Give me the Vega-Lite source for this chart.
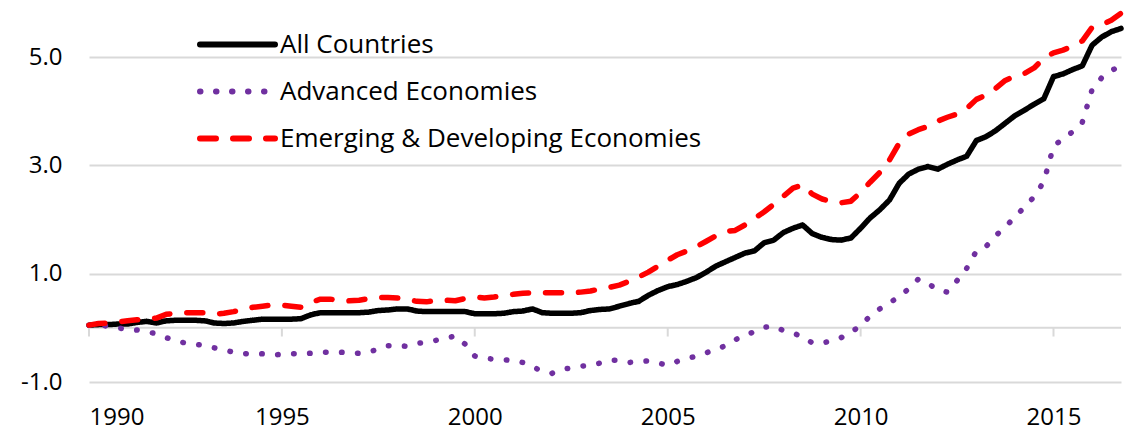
{
"$schema":"https://vega.github.io/schema/vega-lite/v6.json",
"width":1032,"height":379,
"autosize":{"type":"none"},
"padding":{"left":89,"top":3,"right":13,"bottom":49},
"config":{"view":{"stroke":null},"font":"Open Sans"},
"layer":[
{"data":{"values":[{"z":0}]},"mark":{"type":"rule","color":"#d9d9d9","strokeWidth":2},"encoding":{"y":{"field":"z","type":"quantitative"}}},
{"data":{"values":[{"d":"1990-01-01"},{"d":"1995-01-01"},{"d":"2000-01-01"},{"d":"2005-01-01"},{"d":"2010-01-01"},{"d":"2015-01-01"}]},
 "mark":{"type":"rule","color":"#d9d9d9","strokeWidth":2},
 "encoding":{"x":{"field":"d","type":"temporal"},"y":{"datum":0,"type":"quantitative"},"y2":{"datum":-0.16}}},
{"data":{"values":[
{"d":"1990-01-01","s":"All Countries","v":0.05},{"d":"1990-04-01","s":"All Countries","v":0.06},{"d":"1990-07-01","s":"All Countries","v":0.06},{"d":"1990-10-01","s":"All Countries","v":0.07},
{"d":"1991-01-01","s":"All Countries","v":0.07},{"d":"1991-04-01","s":"All Countries","v":0.10},{"d":"1991-07-01","s":"All Countries","v":0.12},{"d":"1991-10-01","s":"All Countries","v":0.09},
{"d":"1992-01-01","s":"All Countries","v":0.13},{"d":"1992-04-01","s":"All Countries","v":0.14},{"d":"1992-07-01","s":"All Countries","v":0.14},{"d":"1992-10-01","s":"All Countries","v":0.14},
{"d":"1993-01-01","s":"All Countries","v":0.13},{"d":"1993-04-01","s":"All Countries","v":0.09},{"d":"1993-07-01","s":"All Countries","v":0.08},{"d":"1993-10-01","s":"All Countries","v":0.09},
{"d":"1994-01-01","s":"All Countries","v":0.12},{"d":"1994-04-01","s":"All Countries","v":0.14},{"d":"1994-07-01","s":"All Countries","v":0.16},{"d":"1994-10-01","s":"All Countries","v":0.16},
{"d":"1995-01-01","s":"All Countries","v":0.16},{"d":"1995-04-01","s":"All Countries","v":0.16},{"d":"1995-07-01","s":"All Countries","v":0.17},{"d":"1995-10-01","s":"All Countries","v":0.24},
{"d":"1996-01-01","s":"All Countries","v":0.28},{"d":"1996-04-01","s":"All Countries","v":0.28},{"d":"1996-07-01","s":"All Countries","v":0.28},{"d":"1996-10-01","s":"All Countries","v":0.28},
{"d":"1997-01-01","s":"All Countries","v":0.28},{"d":"1997-04-01","s":"All Countries","v":0.29},{"d":"1997-07-01","s":"All Countries","v":0.32},{"d":"1997-10-01","s":"All Countries","v":0.33},
{"d":"1998-01-01","s":"All Countries","v":0.35},{"d":"1998-04-01","s":"All Countries","v":0.35},{"d":"1998-07-01","s":"All Countries","v":0.31},{"d":"1998-10-01","s":"All Countries","v":0.30},
{"d":"1999-01-01","s":"All Countries","v":0.30},{"d":"1999-04-01","s":"All Countries","v":0.30},{"d":"1999-07-01","s":"All Countries","v":0.30},{"d":"1999-10-01","s":"All Countries","v":0.30},
{"d":"2000-01-01","s":"All Countries","v":0.26},{"d":"2000-04-01","s":"All Countries","v":0.26},{"d":"2000-07-01","s":"All Countries","v":0.26},{"d":"2000-10-01","s":"All Countries","v":0.27},
{"d":"2001-01-01","s":"All Countries","v":0.30},{"d":"2001-04-01","s":"All Countries","v":0.31},{"d":"2001-07-01","s":"All Countries","v":0.35},{"d":"2001-10-01","s":"All Countries","v":0.28},
{"d":"2002-01-01","s":"All Countries","v":0.27},{"d":"2002-04-01","s":"All Countries","v":0.27},{"d":"2002-07-01","s":"All Countries","v":0.27},{"d":"2002-10-01","s":"All Countries","v":0.28},
{"d":"2003-01-01","s":"All Countries","v":0.32},{"d":"2003-04-01","s":"All Countries","v":0.34},{"d":"2003-07-01","s":"All Countries","v":0.35},{"d":"2003-10-01","s":"All Countries","v":0.40},
{"d":"2004-01-01","s":"All Countries","v":0.45},{"d":"2004-04-01","s":"All Countries","v":0.49},{"d":"2004-07-01","s":"All Countries","v":0.60},{"d":"2004-10-01","s":"All Countries","v":0.69},
{"d":"2005-01-01","s":"All Countries","v":0.76},{"d":"2005-04-01","s":"All Countries","v":0.80},{"d":"2005-07-01","s":"All Countries","v":0.86},{"d":"2005-10-01","s":"All Countries","v":0.93},
{"d":"2006-01-01","s":"All Countries","v":1.03},{"d":"2006-04-01","s":"All Countries","v":1.14},{"d":"2006-07-01","s":"All Countries","v":1.22},{"d":"2006-10-01","s":"All Countries","v":1.30},
{"d":"2007-01-01","s":"All Countries","v":1.38},{"d":"2007-04-01","s":"All Countries","v":1.42},{"d":"2007-07-01","s":"All Countries","v":1.57},{"d":"2007-10-01","s":"All Countries","v":1.62},
{"d":"2008-01-01","s":"All Countries","v":1.76},{"d":"2008-04-01","s":"All Countries","v":1.84},{"d":"2008-07-01","s":"All Countries","v":1.90},{"d":"2008-10-01","s":"All Countries","v":1.74},
{"d":"2009-01-01","s":"All Countries","v":1.67},{"d":"2009-04-01","s":"All Countries","v":1.63},{"d":"2009-07-01","s":"All Countries","v":1.62},{"d":"2009-10-01","s":"All Countries","v":1.66},
{"d":"2010-01-01","s":"All Countries","v":1.84},{"d":"2010-04-01","s":"All Countries","v":2.03},{"d":"2010-07-01","s":"All Countries","v":2.18},{"d":"2010-10-01","s":"All Countries","v":2.36},
{"d":"2011-01-01","s":"All Countries","v":2.67},{"d":"2011-04-01","s":"All Countries","v":2.84},{"d":"2011-07-01","s":"All Countries","v":2.93},{"d":"2011-10-01","s":"All Countries","v":2.98},
{"d":"2012-01-01","s":"All Countries","v":2.93},{"d":"2012-04-01","s":"All Countries","v":3.02},{"d":"2012-07-01","s":"All Countries","v":3.10},{"d":"2012-10-01","s":"All Countries","v":3.17},
{"d":"2013-01-01","s":"All Countries","v":3.46},{"d":"2013-04-01","s":"All Countries","v":3.53},{"d":"2013-07-01","s":"All Countries","v":3.64},{"d":"2013-10-01","s":"All Countries","v":3.78},
{"d":"2014-01-01","s":"All Countries","v":3.92},{"d":"2014-04-01","s":"All Countries","v":4.02},{"d":"2014-07-01","s":"All Countries","v":4.13},{"d":"2014-10-01","s":"All Countries","v":4.23},
{"d":"2015-01-01","s":"All Countries","v":4.64},{"d":"2015-04-01","s":"All Countries","v":4.69},{"d":"2015-07-01","s":"All Countries","v":4.77},{"d":"2015-10-01","s":"All Countries","v":4.84},
{"d":"2016-01-01","s":"All Countries","v":5.22},{"d":"2016-04-01","s":"All Countries","v":5.37},{"d":"2016-07-01","s":"All Countries","v":5.47},{"d":"2016-10-01","s":"All Countries","v":5.53},
{"d":"1990-01-01","s":"Advanced Economies","v":0.05},{"d":"1990-04-01","s":"Advanced Economies","v":0.05},{"d":"1990-07-01","s":"Advanced Economies","v":0.03},{"d":"1990-10-01","s":"Advanced Economies","v":0.00},
{"d":"1991-01-01","s":"Advanced Economies","v":-0.03},{"d":"1991-04-01","s":"Advanced Economies","v":-0.04},{"d":"1991-07-01","s":"Advanced Economies","v":-0.07},{"d":"1991-10-01","s":"Advanced Economies","v":-0.11},
{"d":"1992-01-01","s":"Advanced Economies","v":-0.18},{"d":"1992-04-01","s":"Advanced Economies","v":-0.24},{"d":"1992-07-01","s":"Advanced Economies","v":-0.28},{"d":"1992-10-01","s":"Advanced Economies","v":-0.30},
{"d":"1993-01-01","s":"Advanced Economies","v":-0.33},{"d":"1993-04-01","s":"Advanced Economies","v":-0.37},{"d":"1993-07-01","s":"Advanced Economies","v":-0.41},{"d":"1993-10-01","s":"Advanced Economies","v":-0.45},
{"d":"1994-01-01","s":"Advanced Economies","v":-0.48},{"d":"1994-04-01","s":"Advanced Economies","v":-0.47},{"d":"1994-07-01","s":"Advanced Economies","v":-0.48},{"d":"1994-10-01","s":"Advanced Economies","v":-0.50},
{"d":"1995-01-01","s":"Advanced Economies","v":-0.49},{"d":"1995-04-01","s":"Advanced Economies","v":-0.48},{"d":"1995-07-01","s":"Advanced Economies","v":-0.48},{"d":"1995-10-01","s":"Advanced Economies","v":-0.47},
{"d":"1996-01-01","s":"Advanced Economies","v":-0.45},{"d":"1996-04-01","s":"Advanced Economies","v":-0.45},{"d":"1996-07-01","s":"Advanced Economies","v":-0.45},{"d":"1996-10-01","s":"Advanced Economies","v":-0.46},
{"d":"1997-01-01","s":"Advanced Economies","v":-0.47},{"d":"1997-04-01","s":"Advanced Economies","v":-0.44},{"d":"1997-07-01","s":"Advanced Economies","v":-0.40},{"d":"1997-10-01","s":"Advanced Economies","v":-0.33},
{"d":"1998-01-01","s":"Advanced Economies","v":-0.33},{"d":"1998-04-01","s":"Advanced Economies","v":-0.34},{"d":"1998-07-01","s":"Advanced Economies","v":-0.29},{"d":"1998-10-01","s":"Advanced Economies","v":-0.26},
{"d":"1999-01-01","s":"Advanced Economies","v":-0.23},{"d":"1999-04-01","s":"Advanced Economies","v":-0.19},{"d":"1999-07-01","s":"Advanced Economies","v":-0.15},{"d":"1999-10-01","s":"Advanced Economies","v":-0.30},
{"d":"2000-01-01","s":"Advanced Economies","v":-0.52},{"d":"2000-04-01","s":"Advanced Economies","v":-0.56},{"d":"2000-07-01","s":"Advanced Economies","v":-0.58},{"d":"2000-10-01","s":"Advanced Economies","v":-0.59},
{"d":"2001-01-01","s":"Advanced Economies","v":-0.60},{"d":"2001-04-01","s":"Advanced Economies","v":-0.64},{"d":"2001-07-01","s":"Advanced Economies","v":-0.72},{"d":"2001-10-01","s":"Advanced Economies","v":-0.80},
{"d":"2002-01-01","s":"Advanced Economies","v":-0.84},{"d":"2002-04-01","s":"Advanced Economies","v":-0.77},{"d":"2002-07-01","s":"Advanced Economies","v":-0.74},{"d":"2002-10-01","s":"Advanced Economies","v":-0.71},
{"d":"2003-01-01","s":"Advanced Economies","v":-0.69},{"d":"2003-04-01","s":"Advanced Economies","v":-0.65},{"d":"2003-07-01","s":"Advanced Economies","v":-0.60},{"d":"2003-10-01","s":"Advanced Economies","v":-0.60},
{"d":"2004-01-01","s":"Advanced Economies","v":-0.64},{"d":"2004-04-01","s":"Advanced Economies","v":-0.62},{"d":"2004-07-01","s":"Advanced Economies","v":-0.61},{"d":"2004-10-01","s":"Advanced Economies","v":-0.65},
{"d":"2005-01-01","s":"Advanced Economies","v":-0.69},{"d":"2005-04-01","s":"Advanced Economies","v":-0.62},{"d":"2005-07-01","s":"Advanced Economies","v":-0.57},{"d":"2005-10-01","s":"Advanced Economies","v":-0.52},
{"d":"2006-01-01","s":"Advanced Economies","v":-0.46},{"d":"2006-04-01","s":"Advanced Economies","v":-0.40},{"d":"2006-07-01","s":"Advanced Economies","v":-0.33},{"d":"2006-10-01","s":"Advanced Economies","v":-0.22},
{"d":"2007-01-01","s":"Advanced Economies","v":-0.14},{"d":"2007-04-01","s":"Advanced Economies","v":-0.07},{"d":"2007-07-01","s":"Advanced Economies","v":0.01},{"d":"2007-10-01","s":"Advanced Economies","v":0.03},
{"d":"2008-01-01","s":"Advanced Economies","v":-0.05},{"d":"2008-04-01","s":"Advanced Economies","v":-0.10},{"d":"2008-07-01","s":"Advanced Economies","v":-0.16},{"d":"2008-10-01","s":"Advanced Economies","v":-0.28},
{"d":"2009-01-01","s":"Advanced Economies","v":-0.28},{"d":"2009-04-01","s":"Advanced Economies","v":-0.24},{"d":"2009-07-01","s":"Advanced Economies","v":-0.18},{"d":"2009-10-01","s":"Advanced Economies","v":-0.08},
{"d":"2010-01-01","s":"Advanced Economies","v":0.04},{"d":"2010-04-01","s":"Advanced Economies","v":0.22},{"d":"2010-07-01","s":"Advanced Economies","v":0.35},{"d":"2010-10-01","s":"Advanced Economies","v":0.46},
{"d":"2011-01-01","s":"Advanced Economies","v":0.58},{"d":"2011-04-01","s":"Advanced Economies","v":0.72},{"d":"2011-07-01","s":"Advanced Economies","v":0.90},{"d":"2011-10-01","s":"Advanced Economies","v":0.82},
{"d":"2012-01-01","s":"Advanced Economies","v":0.70},{"d":"2012-04-01","s":"Advanced Economies","v":0.66},{"d":"2012-07-01","s":"Advanced Economies","v":0.87},{"d":"2012-10-01","s":"Advanced Economies","v":1.10},
{"d":"2013-01-01","s":"Advanced Economies","v":1.42},{"d":"2013-04-01","s":"Advanced Economies","v":1.50},{"d":"2013-07-01","s":"Advanced Economies","v":1.70},{"d":"2013-10-01","s":"Advanced Economies","v":1.86},
{"d":"2014-01-01","s":"Advanced Economies","v":2.05},{"d":"2014-04-01","s":"Advanced Economies","v":2.23},{"d":"2014-07-01","s":"Advanced Economies","v":2.42},{"d":"2014-10-01","s":"Advanced Economies","v":2.70},
{"d":"2015-01-01","s":"Advanced Economies","v":3.35},{"d":"2015-04-01","s":"Advanced Economies","v":3.50},{"d":"2015-07-01","s":"Advanced Economies","v":3.62},{"d":"2015-10-01","s":"Advanced Economies","v":3.80},
{"d":"2016-01-01","s":"Advanced Economies","v":4.40},{"d":"2016-04-01","s":"Advanced Economies","v":4.62},{"d":"2016-07-01","s":"Advanced Economies","v":4.75},{"d":"2016-10-01","s":"Advanced Economies","v":4.85},
{"d":"1990-01-01","s":"Emerging & Developing Economies","v":0.05},{"d":"1990-04-01","s":"Emerging & Developing Economies","v":0.08},{"d":"1990-07-01","s":"Emerging & Developing Economies","v":0.09},{"d":"1990-10-01","s":"Emerging & Developing Economies","v":0.11},
{"d":"1991-01-01","s":"Emerging & Developing Economies","v":0.13},{"d":"1991-04-01","s":"Emerging & Developing Economies","v":0.15},{"d":"1991-07-01","s":"Emerging & Developing Economies","v":0.16},{"d":"1991-10-01","s":"Emerging & Developing Economies","v":0.18},
{"d":"1992-01-01","s":"Emerging & Developing Economies","v":0.25},{"d":"1992-04-01","s":"Emerging & Developing Economies","v":0.27},{"d":"1992-07-01","s":"Emerging & Developing Economies","v":0.28},{"d":"1992-10-01","s":"Emerging & Developing Economies","v":0.28},
{"d":"1993-01-01","s":"Emerging & Developing Economies","v":0.28},{"d":"1993-04-01","s":"Emerging & Developing Economies","v":0.25},{"d":"1993-07-01","s":"Emerging & Developing Economies","v":0.27},{"d":"1993-10-01","s":"Emerging & Developing Economies","v":0.30},
{"d":"1994-01-01","s":"Emerging & Developing Economies","v":0.34},{"d":"1994-04-01","s":"Emerging & Developing Economies","v":0.38},{"d":"1994-07-01","s":"Emerging & Developing Economies","v":0.40},{"d":"1994-10-01","s":"Emerging & Developing Economies","v":0.42},
{"d":"1995-01-01","s":"Emerging & Developing Economies","v":0.42},{"d":"1995-04-01","s":"Emerging & Developing Economies","v":0.40},{"d":"1995-07-01","s":"Emerging & Developing Economies","v":0.38},{"d":"1995-10-01","s":"Emerging & Developing Economies","v":0.47},
{"d":"1996-01-01","s":"Emerging & Developing Economies","v":0.53},{"d":"1996-04-01","s":"Emerging & Developing Economies","v":0.53},{"d":"1996-07-01","s":"Emerging & Developing Economies","v":0.51},{"d":"1996-10-01","s":"Emerging & Developing Economies","v":0.50},
{"d":"1997-01-01","s":"Emerging & Developing Economies","v":0.51},{"d":"1997-04-01","s":"Emerging & Developing Economies","v":0.54},{"d":"1997-07-01","s":"Emerging & Developing Economies","v":0.56},{"d":"1997-10-01","s":"Emerging & Developing Economies","v":0.56},
{"d":"1998-01-01","s":"Emerging & Developing Economies","v":0.55},{"d":"1998-04-01","s":"Emerging & Developing Economies","v":0.53},{"d":"1998-07-01","s":"Emerging & Developing Economies","v":0.49},{"d":"1998-10-01","s":"Emerging & Developing Economies","v":0.48},
{"d":"1999-01-01","s":"Emerging & Developing Economies","v":0.51},{"d":"1999-04-01","s":"Emerging & Developing Economies","v":0.51},{"d":"1999-07-01","s":"Emerging & Developing Economies","v":0.50},{"d":"1999-10-01","s":"Emerging & Developing Economies","v":0.54},
{"d":"2000-01-01","s":"Emerging & Developing Economies","v":0.57},{"d":"2000-04-01","s":"Emerging & Developing Economies","v":0.55},{"d":"2000-07-01","s":"Emerging & Developing Economies","v":0.57},{"d":"2000-10-01","s":"Emerging & Developing Economies","v":0.60},
{"d":"2001-01-01","s":"Emerging & Developing Economies","v":0.62},{"d":"2001-04-01","s":"Emerging & Developing Economies","v":0.64},{"d":"2001-07-01","s":"Emerging & Developing Economies","v":0.65},{"d":"2001-10-01","s":"Emerging & Developing Economies","v":0.65},
{"d":"2002-01-01","s":"Emerging & Developing Economies","v":0.65},{"d":"2002-04-01","s":"Emerging & Developing Economies","v":0.65},{"d":"2002-07-01","s":"Emerging & Developing Economies","v":0.65},{"d":"2002-10-01","s":"Emerging & Developing Economies","v":0.66},
{"d":"2003-01-01","s":"Emerging & Developing Economies","v":0.68},{"d":"2003-04-01","s":"Emerging & Developing Economies","v":0.72},{"d":"2003-07-01","s":"Emerging & Developing Economies","v":0.75},{"d":"2003-10-01","s":"Emerging & Developing Economies","v":0.79},
{"d":"2004-01-01","s":"Emerging & Developing Economies","v":0.86},{"d":"2004-04-01","s":"Emerging & Developing Economies","v":0.94},{"d":"2004-07-01","s":"Emerging & Developing Economies","v":1.03},{"d":"2004-10-01","s":"Emerging & Developing Economies","v":1.14},
{"d":"2005-01-01","s":"Emerging & Developing Economies","v":1.25},{"d":"2005-04-01","s":"Emerging & Developing Economies","v":1.35},{"d":"2005-07-01","s":"Emerging & Developing Economies","v":1.42},{"d":"2005-10-01","s":"Emerging & Developing Economies","v":1.50},
{"d":"2006-01-01","s":"Emerging & Developing Economies","v":1.60},{"d":"2006-04-01","s":"Emerging & Developing Economies","v":1.70},{"d":"2006-07-01","s":"Emerging & Developing Economies","v":1.78},{"d":"2006-10-01","s":"Emerging & Developing Economies","v":1.80},
{"d":"2007-01-01","s":"Emerging & Developing Economies","v":1.90},{"d":"2007-04-01","s":"Emerging & Developing Economies","v":2.02},{"d":"2007-07-01","s":"Emerging & Developing Economies","v":2.14},{"d":"2007-10-01","s":"Emerging & Developing Economies","v":2.28},
{"d":"2008-01-01","s":"Emerging & Developing Economies","v":2.43},{"d":"2008-04-01","s":"Emerging & Developing Economies","v":2.58},{"d":"2008-07-01","s":"Emerging & Developing Economies","v":2.64},{"d":"2008-10-01","s":"Emerging & Developing Economies","v":2.47},
{"d":"2009-01-01","s":"Emerging & Developing Economies","v":2.38},{"d":"2009-04-01","s":"Emerging & Developing Economies","v":2.33},{"d":"2009-07-01","s":"Emerging & Developing Economies","v":2.31},{"d":"2009-10-01","s":"Emerging & Developing Economies","v":2.34},
{"d":"2010-01-01","s":"Emerging & Developing Economies","v":2.50},{"d":"2010-04-01","s":"Emerging & Developing Economies","v":2.69},{"d":"2010-07-01","s":"Emerging & Developing Economies","v":2.87},{"d":"2010-10-01","s":"Emerging & Developing Economies","v":3.10},
{"d":"2011-01-01","s":"Emerging & Developing Economies","v":3.41},{"d":"2011-04-01","s":"Emerging & Developing Economies","v":3.58},{"d":"2011-07-01","s":"Emerging & Developing Economies","v":3.66},{"d":"2011-10-01","s":"Emerging & Developing Economies","v":3.72},
{"d":"2012-01-01","s":"Emerging & Developing Economies","v":3.82},{"d":"2012-04-01","s":"Emerging & Developing Economies","v":3.89},{"d":"2012-07-01","s":"Emerging & Developing Economies","v":3.95},{"d":"2012-10-01","s":"Emerging & Developing Economies","v":4.05},
{"d":"2013-01-01","s":"Emerging & Developing Economies","v":4.22},{"d":"2013-04-01","s":"Emerging & Developing Economies","v":4.30},{"d":"2013-07-01","s":"Emerging & Developing Economies","v":4.42},{"d":"2013-10-01","s":"Emerging & Developing Economies","v":4.57},
{"d":"2014-01-01","s":"Emerging & Developing Economies","v":4.65},{"d":"2014-04-01","s":"Emerging & Developing Economies","v":4.70},{"d":"2014-07-01","s":"Emerging & Developing Economies","v":4.80},{"d":"2014-10-01","s":"Emerging & Developing Economies","v":4.98},
{"d":"2015-01-01","s":"Emerging & Developing Economies","v":5.08},{"d":"2015-04-01","s":"Emerging & Developing Economies","v":5.13},{"d":"2015-07-01","s":"Emerging & Developing Economies","v":5.20},{"d":"2015-10-01","s":"Emerging & Developing Economies","v":5.30},
{"d":"2016-01-01","s":"Emerging & Developing Economies","v":5.55},{"d":"2016-04-01","s":"Emerging & Developing Economies","v":5.60},{"d":"2016-07-01","s":"Emerging & Developing Economies","v":5.68},{"d":"2016-10-01","s":"Emerging & Developing Economies","v":5.81}
]},
 "mark":{"type":"line","strokeWidth":5.5,"strokeCap":"round","strokeJoin":"round"},
 "encoding":{
  "x":{"field":"d","type":"temporal","scale":{"type":"utc","domain":[{"year":1990,"month":1,"date":1,"utc":true},{"year":2016,"month":10,"date":1,"utc":true}]},
       "axis":{"title":null,"values":[{"year":1990,"utc":true},{"year":1995,"utc":true},{"year":2000,"utc":true},{"year":2005,"utc":true},{"year":2010,"utc":true},{"year":2015,"utc":true}],"format":"%Y","domain":false,"ticks":false,"grid":false,"labelFontSize":24,"labelColor":"#000000","labelPadding":23,"labelFont":"Open Sans"}},
  "y":{"field":"v","type":"quantitative","scale":{"domain":[-1,6],"nice":false,"zero":false},
       "axis":{"title":null,"values":[-1,1,3,5],"labelExpr":"replace(format(datum.value,'.1f'),'\u2212','-')","domain":false,"ticks":false,"grid":true,"gridColor":"#d9d9d9","gridWidth":2,"labelFontSize":24,"labelColor":"#000000","labelPadding":27,"labelFont":"Open Sans"}},
  "color":{"field":"s","type":"nominal","scale":{"domain":["All Countries","Advanced Economies","Emerging & Developing Economies"],"range":["#000000","#7030a0","#ff0000"]},
    "legend":{"title":null,"orient":"none","legendX":108,"legendY":18,"symbolType":"stroke","symbolSize":5625,"symbolStrokeWidth":6,"labelFontSize":26,"labelFont":"Open Sans","labelColor":"#000000","labelOffset":2,"labelLimit":700,"padding":0,"rowPadding":0,"clipHeight":47,"encode":{"symbols":{"update":{"strokeCap":{"value":"round"}}}}}},
  "strokeDash":{"field":"s","type":"nominal","scale":{"domain":["All Countries","Advanced Economies","Emerging & Developing Economies"],"range":[[1,0],[0.5,15.5],[16,17]]},
    "legend":{"title":null,"orient":"none","legendX":108,"legendY":18,"symbolType":"stroke","symbolSize":5625,"symbolStrokeWidth":6,"labelFontSize":26,"labelFont":"Open Sans","labelColor":"#000000","labelOffset":2,"labelLimit":700,"padding":0,"rowPadding":0,"clipHeight":47,"encode":{"symbols":{"update":{"strokeCap":{"value":"round"}}}}}}
 }}
]
}
